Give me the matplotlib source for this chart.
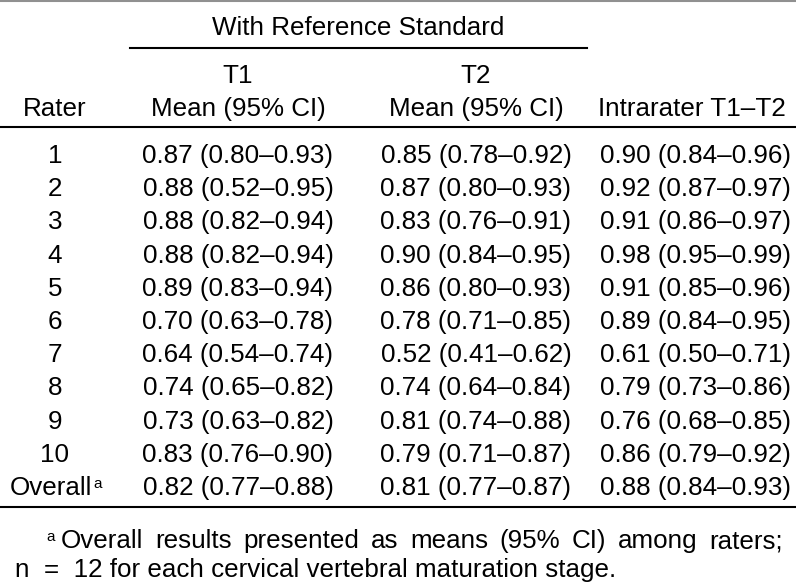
import matplotlib
matplotlib.use("Agg")
import matplotlib.pyplot as plt
from matplotlib.lines import Line2D

plt.rcParams['font.family'] = ['Liberation Sans', 'DejaVu Sans']

# Data
raters = ["1", "2", "3", "4", "5", "6", "7", "8", "9", "10", "Overall"]
t1_mean = [0.87, 0.88, 0.88, 0.88, 0.89, 0.70, 0.64, 0.74, 0.73, 0.83, 0.82]
t1_lo = [0.80, 0.52, 0.82, 0.82, 0.83, 0.63, 0.54, 0.65, 0.63, 0.76, 0.77]
t1_hi = [0.93, 0.95, 0.94, 0.94, 0.94, 0.78, 0.74, 0.82, 0.82, 0.90, 0.88]
t2_mean = [0.85, 0.87, 0.83, 0.90, 0.86, 0.78, 0.52, 0.74, 0.81, 0.79, 0.81]
t2_lo = [0.78, 0.80, 0.76, 0.84, 0.80, 0.71, 0.41, 0.64, 0.74, 0.71, 0.77]
t2_hi = [0.92, 0.93, 0.91, 0.95, 0.93, 0.85, 0.62, 0.84, 0.88, 0.87, 0.87]
intra_mean = [0.90, 0.92, 0.91, 0.98, 0.91, 0.89, 0.61, 0.79, 0.76, 0.86, 0.88]
intra_lo = [0.84, 0.87, 0.86, 0.95, 0.85, 0.84, 0.50, 0.73, 0.68, 0.79, 0.84]
intra_hi = [0.96, 0.97, 0.97, 0.99, 0.96, 0.95, 0.71, 0.86, 0.85, 0.92, 0.93]

footnote_1 = "Overall results presented as means (95% CI) among raters;"
footnote_2 = "n  =  12 for each cervical vertebral maturation stage."

W, H = 796, 582
fig = plt.figure(figsize=(W / 100, H / 100), dpi=100)
FS = 18.7
renderer = fig.canvas.get_renderer()


def fx(x):
    return x / W


def fy(y):
    return 1 - y / H


def txt(x, y, s, ha="center", size=FS):
    return fig.text(fx(x), fy(y), s, ha=ha, va="baseline", fontsize=size, color="black")


def width_of(s, size=FS):
    t = txt(0, 0, s, ha="left", size=size)
    w = t.get_window_extent(renderer).width
    t.remove()
    return w


def hline(x0, x1, y, color="black", lw=1.5):
    fig.add_artist(Line2D([fx(x0), fx(x1)], [fy(y), fy(y)], color=color, lw=lw,
                          transform=fig.transFigure))


def fmt(m, lo, hi):
    return f"{m:.2f} ({lo:.2f}\u2013{hi:.2f})"


col_r, col1, col2, col3 = 55, 238, 476, 695
SUP = 11

# rules
hline(0, W, 1, color="#909090", lw=1.5)
hline(130, 587, 48)
hline(0, W, 127)
hline(0, W, 507)

# header
txt(358, 35, "With Reference Standard")
txt(col1, 83, "T1")
txt(col2, 83, "T2")
txt(col_r, 116, "Rater")
txt(col1, 116, "Mean (95% CI)")
txt(col2, 116, "Mean (95% CI)")
txt(692, 116, "Intrarater T1\u2013T2")

# body
for i, r in enumerate(raters):
    yb = 163 + 33.2 * i
    if r == "Overall":
        w_main = width_of(r)
        x0 = 10
        txt(x0, yb, r, ha="left")
        txt(x0 + w_main + 0.5, yb - 7, "a", ha="left", size=SUP)
    else:
        txt(col_r, yb, r)
    txt(col1, yb, fmt(t1_mean[i], t1_lo[i], t1_hi[i]))
    txt(col2, yb, fmt(t2_mean[i], t2_lo[i], t2_hi[i]))
    txt(col3, yb, fmt(intra_mean[i], intra_lo[i], intra_hi[i]))

# footnote, first line justified
txt(46, 541, "a", ha="left", size=SUP)
words = footnote_1.split()
x_left, x_right = 61, 783
widths = [width_of(w) for w in words]
gap = (x_right - x_left - sum(widths)) / (len(words) - 1)
x = x_left
for w, wd in zip(words, widths):
    txt(x, 548, w, ha="left")
    x += wd + gap
txt(15, 577, footnote_2, ha="left")

fig.savefig("out.png", dpi=100)
